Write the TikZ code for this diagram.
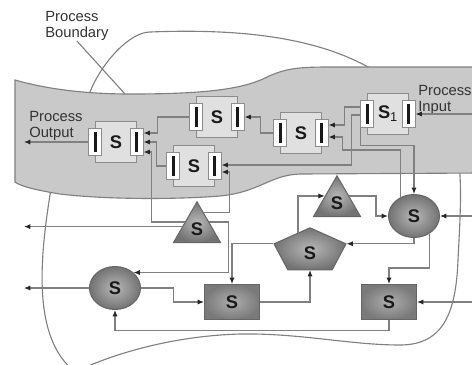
\documentclass[tikz,border=0pt]{standalone}
\usepackage{fontspec}
\setmainfont{Liberation Sans}
\usetikzlibrary{arrows.meta,positioning,shapes.geometric,calc}

\begin{document}
\begin{tikzpicture}[x=0.025cm,y=-0.025cm,
  link/.style={draw=black!50,line width=0.28mm,-{Latex[length=1.6mm,width=1.3mm,color=black!85]}},
  bline/.style={draw=black!50,line width=0.28mm},
  lbl/.style={align=left,inner sep=0pt,font=\fontsize{10.5}{11.5}\selectfont,text=black!80},
  stext/.style={inner sep=0pt,font=\fontsize{13}{13}\selectfont\bfseries,text=black!90},
  sbox/.style={stext,draw=black!45,fill=black!12,minimum width=10.25mm,minimum height=10.25mm},
  sport/.style={draw=black!45,fill=white,minimum width=3.25mm,minimum height=6.75mm,inner sep=0pt,
    path picture={\fill[black!90] ([xshift=-0.4mm,yshift=-0.85mm]path picture bounding box.north) rectangle ([xshift=0.4mm,yshift=0.85mm]path picture bounding box.south);}},
  gshape/.style={stext,draw=black!60,line width=0.25mm,inner color=black!28,outer color=black!55},
  orb/.style={gshape,ellipse,minimum width=12.75mm,minimum height=10.75mm},
  tri/.style={gshape,regular polygon,regular polygon sides=3,minimum size=13.6mm},
  blk/.style={gshape,rectangle,minimum width=13.75mm,minimum height=8.75mm,inner color=black!32,outer color=black!52},
  penta/.style={gshape,regular polygon,regular polygon sides=5,minimum size=20mm,xscale=0.946,yscale=0.58,transform shape}]
\useasboundingbox (0,0) rectangle (472,364);
\clip (0,0) rectangle (472,364);

% process boundary and its label
\draw[bline] (370,68) .. controls (320,40) and (250,28) .. (150,32) .. controls (130,32) and (102,62) .. (90,92) .. controls (75,130) and (55,160) .. (50,195) .. controls (38,270) and (35,340) .. (75,372) .. controls (110,355) and (170,336) .. (240,334) .. controls (300,333) and (350,345) .. (400,345) .. controls (445,345) and (456,310) .. (458,260) .. controls (461,200) and (465,150) .. (445,115) .. controls (425,85) and (395,75) .. (370,68) -- cycle;
\node[lbl,anchor=north west] (pbound) at (45,11) {Process\\Boundary};
\coordinate (pbtip) at (125,94);
\draw[bline] (pbound.south) -- (pbtip);

% band
\filldraw[bline,fill=black!21] (15,80) .. controls (50,90) and (90,94) .. (130,94) .. controls (200,94) and (240,90) .. (265,78) .. controls (285,68) and (300,67) .. (330,67) -- (480,67) -- (480,173) -- (300,174) .. controls (270,175) and (260,192) .. (220,196) .. controls (170,200) and (100,199) .. (60,194) .. controls (35,190) and (20,186) .. (15,182) -- cycle;
\node[lbl,anchor=north west] (pout) at (29,111) {Process\\Output};
\node[lbl,anchor=north west] (pin) at (418,85) {Process\\Input};

% band units
\node[sbox] (out) at (116,142) {S};
\node[sport] (outl) at (out.west) {};
\node[sport] (outr) at (out.east) {};
\node[sbox] (n2) at (217,117) {S};
\node[sport] (n2l) at (n2.west) {};
\node[sport] (n2r) at (n2.east) {};
\node[sbox] (n3) at (194,166) {S};
\node[sport] (n3l) at (n3.west) {};
\node[sport] (n3r) at (n3.east) {};
\node[sbox] (n4) at (301,133) {S};
\node[sport] (n4l) at (n4.west) {};
\node[sport] (n4r) at (n4.east) {};
\node[sbox] (s1) at (388,114) {S\textsubscript{\mdseries 1}};
\node[sport] (s1l) at (s1.west) {};
\node[sport] (s1r) at (s1.east) {};

% shapes
\node[tri] (t1) at (197,229) {S};
\node[tri] (t2) at (337,203) {S};
\node[penta] (pg) at (310,251) {};
\node[stext] (pgs) at ([yshift=-0.5mm]pg.center) {S};
\node[orb] (cr) at (414,216) {S};
\node[orb] (cl) at (115,288) {S};
\node[blk] (sm) at (232,302) {S};
\node[blk] (sr) at (389,302) {S};

\coordinate (t1a) at ($(t1.corner 1)!.5!(t1.corner 2)$);
\coordinate (t1b) at ($(t1.corner 1)!.61!(t1.corner 2)$);
\coordinate (t1c) at ($(t1.corner 1)!.27!(t1.corner 3)$);
\coordinate (t1d) at ($(t1.corner 1)!.5!(t1.corner 3)$);
\coordinate (t2w) at ($(t2.corner 1)!.5!(t2.corner 2)$);
\coordinate (t2e) at ($(t2.corner 1)!.5!(t2.corner 3)$);
\coordinate (pgw) at ($(pg.corner 2)!.67!(pg.corner 1)$);
\coordinate (xin) at (480,114);
\coordinate (xout) at (24,142);
\coordinate (xcl) at (24,288);
\coordinate (xcr) at (480,216);
\coordinate (xsr) at (480,302);

% connectors in the band
\draw[link] (xin) -- (s1r.east);
\draw[link] (outl.west) -- (xout);
\draw[link] (n2l.west) -- ++(-32,0) |- ([yshift=2.25mm]outr.east);
\draw[link] (n3l.west) -- ++(-9.5,0) |- (outr.east);
\draw[link] (n4l.west) -| ([xshift=4mm]n2r.east) -- (n2r.east);
\draw[link] ([yshift=1.75mm]s1l.west) -| ([xshift=4mm,yshift=2mm]n4r.east) -- ([yshift=2mm]n4r.east);
\draw[link] ([yshift=-0.25mm]s1l.west) -- ++(-8.5,0) |- ([yshift=0.25mm]n3r.east);
\draw[link] (s1l.south west) -- ++(0,17.5) -| (cr.north);
\draw[link] (cr.125) |- ([xshift=3.5mm,yshift=-4.25mm]n4r.east) |- ([yshift=-1mm]n4r.east);

% connectors below
\draw[link] (t1a) -| ([xshift=2mm,yshift=-2.5mm]outr.east) -- ([yshift=-2.5mm]outr.east);
\draw[link] (t1b) -- (t1b -| xout);
\draw[link] (t1c) -| ([xshift=1.9mm,yshift=-1.5mm]n3r.east) -- ([yshift=-1.5mm]n3r.east);
\draw[link] (t1d) -- ++(19.3,0) |- (cl.40);
\draw[link] (xcr) -- (cr.east);
\draw[link] (t2e) -| ([xshift=-3mm]cr.west) -- (cr.west);
\draw[link] (cr.south) |- (pg.corner 5);
\draw[link] (cr.-50) |- ([yshift=4mm]sr.north) -- (sr.north);
\draw[link] (xsr) -- (sr.east);
\draw[link] (sr.south) -- ++(0,10.5) -| (cl.south);
\draw[link] (cl.east) -- ++(32.5,0) |- (sm.west);
\draw[link] (cl.west) -- (xcl);
\draw[link] (pg.corner 2) -| (sm.north);
\draw[link] (sm.east) -| (pg.south);
\draw[link] (pgw) |- (t2w);
\end{tikzpicture}
\end{document}
